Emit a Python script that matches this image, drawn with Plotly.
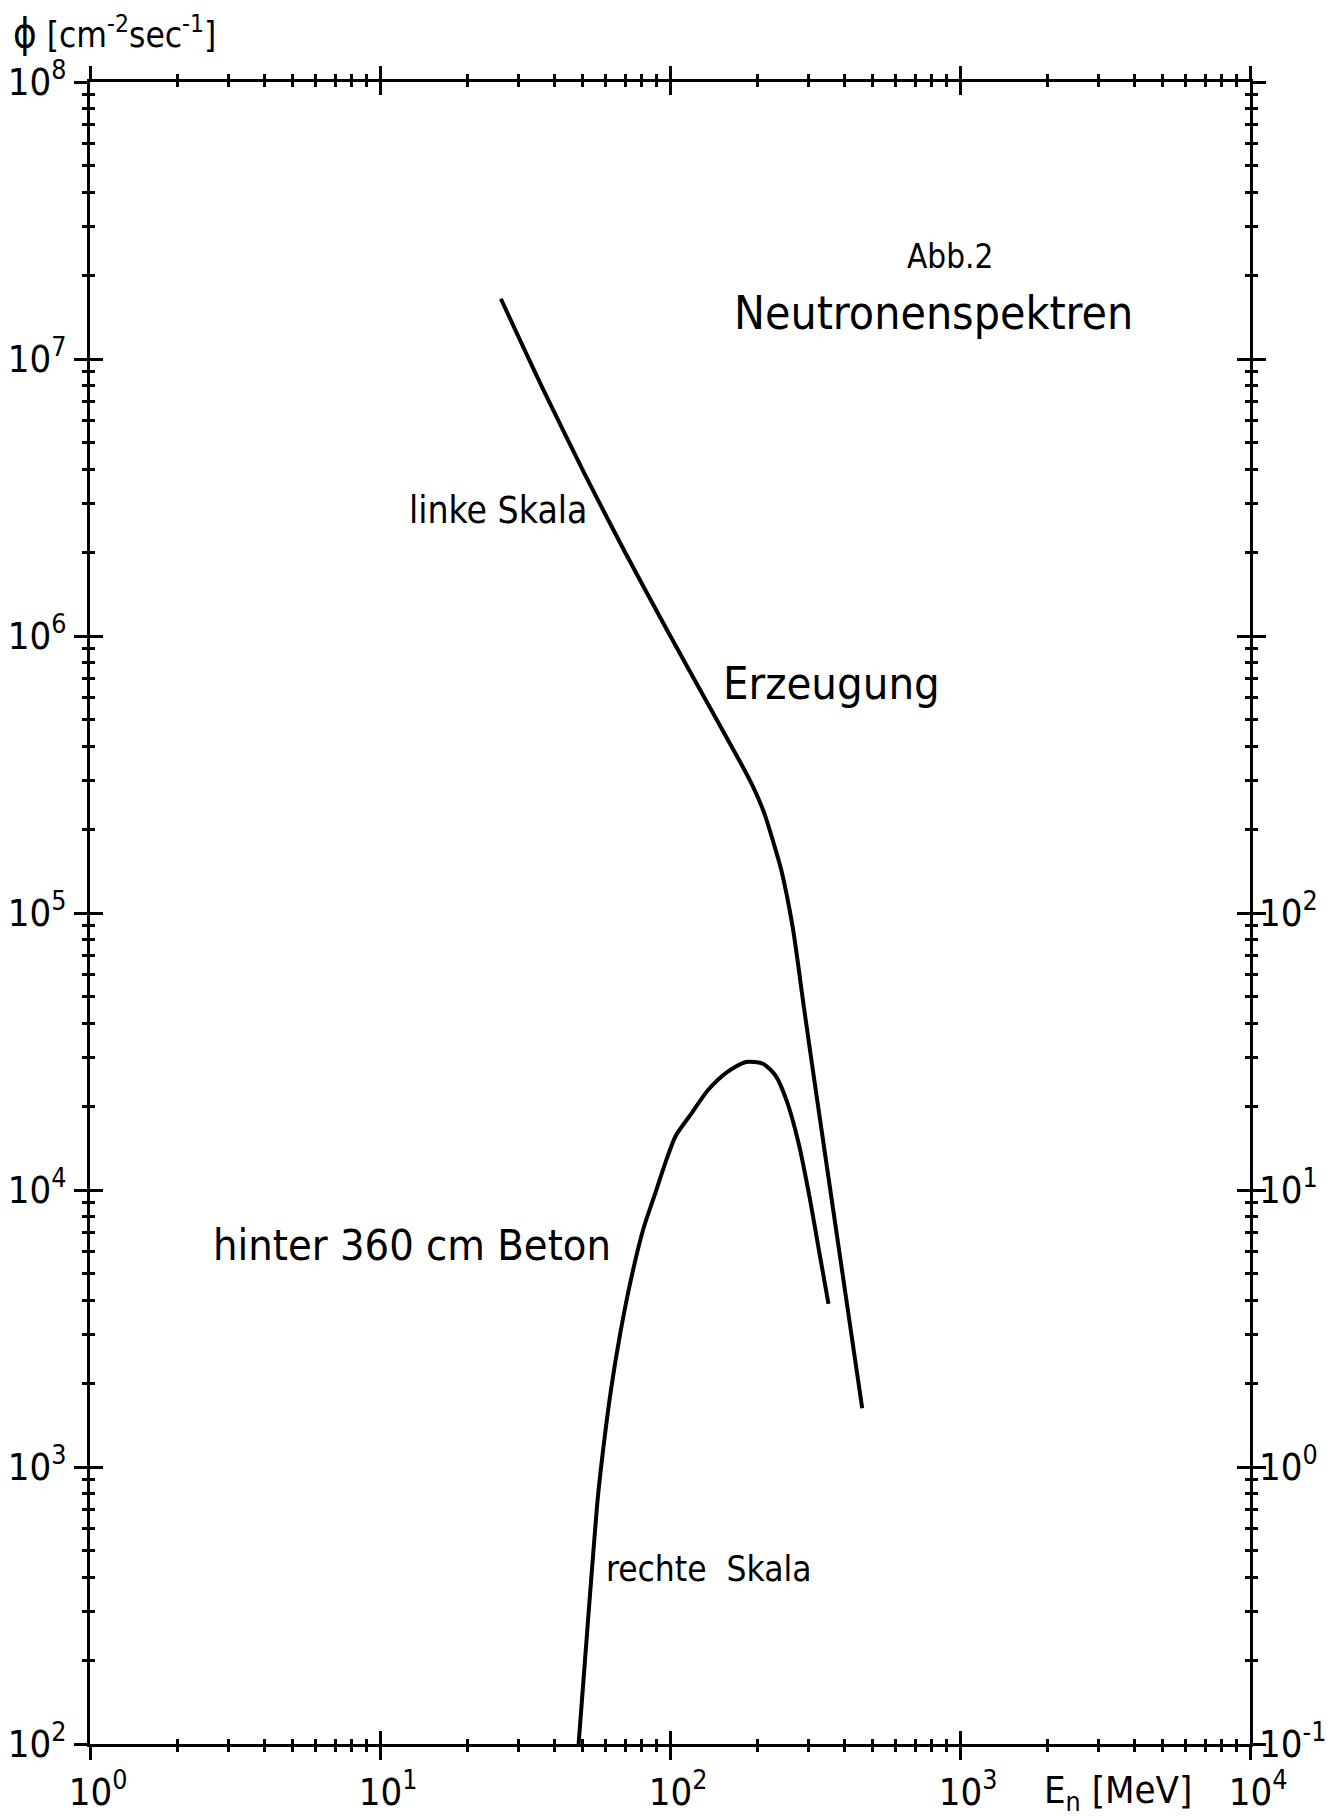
import plotly.graph_objects as go

# ---------------- data ----------------
# "Erzeugung" spectrum, left scale  [E in MeV, phi in cm^-2 s^-1]
erz_E = [26.1, 36.7, 50.7, 69.9, 98.2, 135.5, 175.3, 192, 210.5, 226.5, 241.7, 265, 290,
         318, 365, 412, 460]
erz_phi = [1.65e7, 7.69e6, 3.86e6, 2.01e6, 1.04e6, 5.66e5, 3.48e5, 2.90e5, 2.32e5, 1.82e5,
           1.436e5, 8.87e4, 4.52e4, 2.30e4, 8.55e3, 3.59e3, 1.63e3]

# "hinter 360 cm Beton" spectrum, right scale
bet_E = [48.4, 52.1, 56.0, 57.6, 62.5, 67.4, 73.9, 81.0, 88.8, 97.3, 104.7, 119, 135.5,
         157, 183, 210, 231, 253, 277, 304, 327, 352]
bet_phi = [0.1, 0.275, 0.72, 0.96, 1.88, 3.05, 4.93, 7.26, 9.68, 12.9, 15.7, 19.0, 23.0,
           26.6, 29.0, 28.5, 25.9, 20.9, 14.9, 9.23, 5.98, 3.88]

x_major = [1, 10, 100, 1000, 10000]
x_labels = ["10<sup>0</sup>", "10<sup>1</sup>", "10<sup>2</sup>", "10<sup>3</sup>", "10<sup>4</sup>"]
y_major = [1e2, 1e3, 1e4, 1e5, 1e6, 1e7, 1e8]
y_labels = ["10<sup>2</sup>", "10<sup>3</sup>", "10<sup>4</sup>", "10<sup>5</sup>",
            "10<sup>6</sup>", "10<sup>7</sup>", "10<sup>8</sup>"]
yr_major = [0.1, 1, 10, 100]
yr_labels = ["10<sup>-1</sup>", "10<sup>0</sup>", "10<sup>1</sup>", "10<sup>2</sup>"]

minor_mult = [2, 3, 4, 5, 6, 7, 8, 9]
x_minor = [m * d for d in [1, 10, 100, 1000] for m in minor_mult]
y_minor = [m * d for d in [1e2, 1e3, 1e4, 1e5, 1e6, 1e7] for m in minor_mult]

FONT = "DejaVu Sans Condensed, Liberation Sans Narrow, Roboto, sans-serif"
LW = 3

fig = go.Figure()
fig.add_trace(go.Scatter(x=erz_E, y=erz_phi, mode="lines",
                         line=dict(color="black", width=4, shape="spline", smoothing=0.7),
                         xaxis="x", yaxis="y", hoverinfo="skip"))
fig.add_trace(go.Scatter(x=bet_E, y=bet_phi, mode="lines",
                         line=dict(color="black", width=4, shape="spline", smoothing=0.7),
                         xaxis="x", yaxis="y3", hoverinfo="skip"))
# empty trace to instantiate overlay axes (inside tick halves)
fig.add_trace(go.Scatter(x=[], y=[], xaxis="x2", yaxis="y2", hoverinfo="skip"))

common_x = dict(type="log", range=[0, 4], showgrid=False, zeroline=False, automargin=False,
                showline=True, linecolor="black", linewidth=LW, mirror="ticks",
                tickvals=x_major, tickcolor="black", tickwidth=2.5, ticklen=13)
common_y = dict(type="log", range=[2, 8], showgrid=False, zeroline=False, automargin=False,
                showline=True, linecolor="black", linewidth=LW, mirror="ticks",
                tickvals=y_major, tickcolor="black", tickwidth=2.5, ticklen=13)

fig.update_layout(
    width=1325, height=1808,
    margin=dict(l=82, r=83, t=74, b=72),
    plot_bgcolor="white", paper_bgcolor="white",
    showlegend=False,
    font=dict(family=FONT, color="black"),
    xaxis=dict(**common_x, ticks="outside", ticktext=x_labels,
               ticklabelstandoff=-1, ticklabelshift=8,
               tickfont=dict(size=38, family=FONT, color="black"),
               minor=dict(tickvals=x_minor, ticks="outside", ticklen=5,
                          tickwidth=2.5, tickcolor="black")),
    xaxis2=dict(**common_x, ticks="inside", overlaying="x", anchor="y2",
                showticklabels=False,
                minor=dict(tickvals=x_minor, ticks="inside", ticklen=5,
                           tickwidth=2.5, tickcolor="black")),
    yaxis=dict(**common_y, ticks="outside", ticktext=y_labels,
               tickfont=dict(size=38, family=FONT, color="black"),
               minor=dict(tickvals=y_minor, ticks="outside", ticklen=5,
                          tickwidth=2.5, tickcolor="black")),
    yaxis2=dict(**common_y, ticks="inside", overlaying="y", anchor="x2",
                showticklabels=False,
                minor=dict(tickvals=y_minor, ticks="inside", ticklen=5,
                           tickwidth=2.5, tickcolor="black")),
    yaxis3=dict(type="log", range=[-1, 5], overlaying="y", side="right", anchor="x",
                showgrid=False, zeroline=False, showline=False, ticks="", automargin=False,
                tickvals=yr_major, ticktext=yr_labels, ticklabelstandoff=8,
                tickfont=dict(size=38, family=FONT, color="black")),
)

def ann(text, x, y, size, xanchor="center", yanchor="middle"):
    fig.add_annotation(text=text, x=x, y=y, xref="paper", yref="paper",
                       showarrow=False, xanchor=xanchor, yanchor=yanchor,
                       font=dict(size=size, family=FONT, color="black"))

ann("<span style='font-size:40px'>ϕ</span> [cm<sup>-2</sup>sec<sup>-1</sup>]",
    -0.068, 1.045, 35, xanchor="left", yanchor="top")
ann("E<sub>n</sub> [MeV]", 0.886, -0.029, 38)
ann("Abb.2", 0.741, 0.895, 33)
ann("Neutronenspektren", 0.727, 0.861, 46)
ann("Erzeugung", 0.639, 0.638, 45)
ann("linke Skala", 0.352, 0.742, 37)
ann("hinter 360 cm Beton", 0.278, 0.300, 43)
ann("rechte&nbsp; Skala", 0.534, 0.105, 35)

fig.write_html("out.html")
